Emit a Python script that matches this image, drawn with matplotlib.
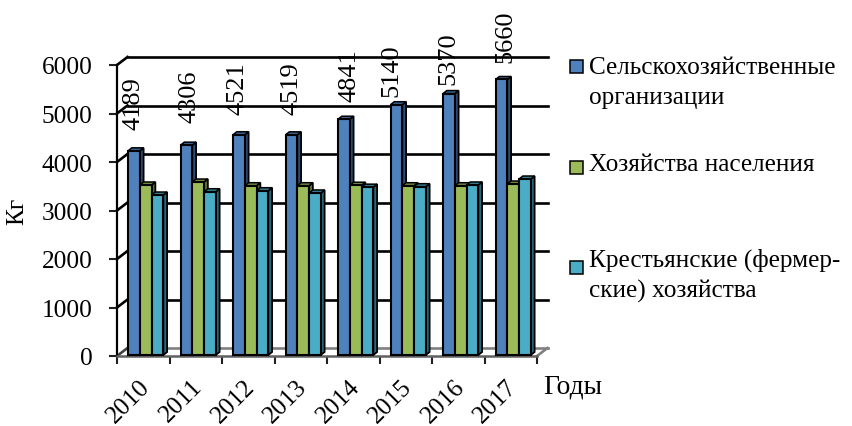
import matplotlib
matplotlib.use("Agg")
import matplotlib.pyplot as plt
from matplotlib.patches import Polygon, Rectangle

plt.rcParams['font.family'] = ['Liberation Serif', 'DejaVu Serif']

years = ['2010', '2011', '2012', '2013', '2014', '2015', '2016', '2017']
agri_org = [4189, 4306, 4521, 4519, 4841, 5140, 5370, 5660]
households = [3485, 3546, 3470, 3470, 3480, 3470, 3470, 3505]
farms = [3278, 3346, 3367, 3320, 3440, 3450, 3485, 3608]
legend_labels = ['Сельскохозяйственные\nорганизации', 'Хозяйства населения',
                 'Крестьянские (фермер-\nские) хозяйства']

W, H = 852, 427
FS = 18.2
front = ['#4F81BD', '#9BBB59', '#4BACC6']
side = ['#2C4D75', '#5F7530', '#276A7C']
top = ['#3A6495', '#71893F', '#357D91']

# label nudges in pixels, the original labels sit unevenly
label_dx = [0, 3.5, -1.5, 0.5, 6, -5, -1, 3.5]
label_gap = [19, 20, 18, 18, 15, 6, 7, 14]

fig = plt.figure(figsize=(W / 100, H / 100), dpi=100)
ax = fig.add_axes([117 / W, (H - 357) / H, 420 / W, 291 / H])
ax.set_xlim(0, 8)
ax.set_ylim(0, 6000)
ax.patch.set_visible(False)

# pseudo 3d offsets in data units
wall_dx = 10.5 / 52.5
wall_dy = 8 / 0.0485
bar_dx = 3.8 / 52.5
bar_dy = 3 / 0.0485
floor = 1 / 0.0485
lift = 2 / 0.0485  # bars stand a bit behind the axis plane
bar_w = 0.224
start = 0.21

# back wall and floor
for v in range(0, 7000, 1000):
    col = '#808080' if v == 0 else 'black'
    ax.plot([wall_dx, 8 + wall_dx], [v + wall_dy] * 2, color=col, lw=1.9, clip_on=False, zorder=1)
    ax.plot([0, wall_dx], [v, v + wall_dy], color=col if v else '#404040', lw=1.9, clip_on=False, zorder=1)
ax.plot([8, 8 + wall_dx], [0, wall_dy], color='#808080', lw=1.9, clip_on=False, zorder=1)


def draw_bar(x, val, i):
    t = val + lift
    ax.add_patch(Polygon([(x + bar_w, floor), (x + bar_w + bar_dx, floor + bar_dy),
                          (x + bar_w + bar_dx, t + bar_dy), (x + bar_w, t)],
                         fc=side[i], ec='black', lw=1.3, clip_on=False, zorder=3))
    ax.add_patch(Polygon([(x, t), (x + bar_dx, t + bar_dy),
                          (x + bar_w + bar_dx, t + bar_dy), (x + bar_w, t)],
                         fc=top[i], ec='black', lw=1.1, clip_on=False, zorder=3))
    ax.bar(x, t - floor, bar_w, bottom=floor, align='edge', color=front[i],
           edgecolor='black', lw=1.5, zorder=4, clip_on=False)


for k in range(len(years)):
    for i, series in enumerate([agri_org, households, farms]):
        draw_bar(k + start + i * bar_w, series[k], i)
    ax.annotate(str(agri_org[k]), (k + start + bar_w / 2, agri_org[k] + lift + bar_dy),
                xytext=(label_dx[k], label_gap[k]), textcoords='offset pixels',
                rotation=90, ha='center', va='bottom', fontsize=19, zorder=6,
                annotation_clip=False)

ax.set_yticks(range(0, 7000, 1000))
ax.set_xticks(range(9))
ax.set_xticklabels([])
ax.tick_params(axis='both', length=6, width=1.5, color='#202020')
ax.tick_params(axis='y', labelsize=FS, pad=11.5)
for s in ['top', 'right']:
    ax.spines[s].set_visible(False)
ax.spines['left'].set_linewidth(1.6)
ax.spines['bottom'].set_linewidth(1.8)
ax.spines['bottom'].set_color('#606060')
ax.set_zorder(2)

for k, yr in enumerate(years):
    ax.annotate(yr, (k + 0.5, 0), xytext=(-5, -19), textcoords='offset pixels',
                rotation=45, ha='right', va='top', rotation_mode='anchor',
                fontsize=FS, annotation_clip=False)


def fx(px):
    return px / W


def fy(py):
    return (H - py) / H


fig.text(fx(17), fy(211), 'Кг', rotation=90, ha='center', va='center', fontsize=FS)
fig.text(fx(543), fy(387), 'Годы', ha='left', va='center', fontsize=19.8)

# legend placed by hand, spacing is uneven in the original
marker_y = [67, 168, 268]
text_y = [83, 165, 276]
for i, label in enumerate(legend_labels):
    fig.add_artist(Rectangle((fx(569.5), fy(marker_y[i] + 6.5)), 13 / W, 13 / H,
                             fc=front[i], ec='black', lw=1.1, transform=fig.transFigure))
    fig.text(fx(589), fy(text_y[i]), label, ha='left', va='center', fontsize=FS, linespacing=1.45)

fig.savefig('out.png', dpi=100)
